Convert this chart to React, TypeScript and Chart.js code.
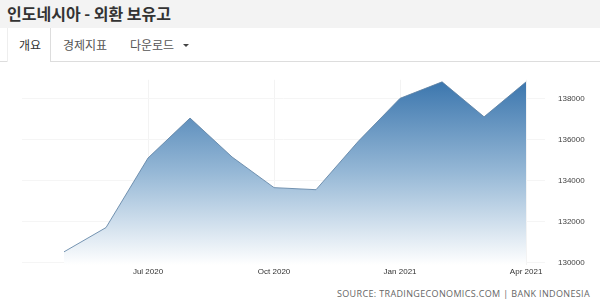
import React, { useEffect, useRef } from "react";
import { Chart, registerables } from "chart.js";

Chart.register(...registerables);

// Months after Apr 2020 (index 1 = May 2020)
const months = ["May 2020", "Jun 2020", "Jul 2020", "Aug 2020", "Sep 2020", "Oct 2020", "Nov 2020", "Dec 2020", "Jan 2021", "Feb 2021", "Mar 2021", "Apr 2021"];
const reserves = [130540, 131720, 135100, 137040, 135150, 133660, 133560, 135900, 138000, 138800, 137100, 138800];
const tickPositions = [3, 6, 9, 12];
const tickLabels = ["Jul 2020", "Oct 2020", "Jan 2021", "Apr 2021"];
const yTicks = [130000, 132000, 134000, 136000, 138000];

const FONT = "'Liberation Sans', Arial, sans-serif";

export default function App() {
  const ref = useRef<HTMLCanvasElement | null>(null);

  useEffect(() => {
    if (!ref.current) return;
    const chart = new Chart(ref.current, {
      type: "line",
      data: {
        labels: months,
        datasets: [
          {
            data: reserves.map((v, i) => ({ x: i + 1, y: v })),
            borderColor: "rgba(95,130,165,0.85)",
            borderWidth: 1,
            pointRadius: 0,
            tension: 0,
            fill: "start",
            backgroundColor: (ctx: any) => {
              const { chart } = ctx;
              const area = chart.chartArea;
              if (!area) return "rgba(60,120,175,0.5)";
              const g = chart.ctx.createLinearGradient(0, area.top, 0, area.bottom);
              g.addColorStop(0, "#3a75ad");
              g.addColorStop(0.5, "#96b8d6");
              g.addColorStop(1, "#ffffff");
              return g;
            },
          },
        ],
      },
      options: {
        animation: false,
        responsive: false,
        layout: { padding: { left: 22, top: 2, right: 0, bottom: 6 } },
        plugins: { legend: { display: false }, tooltip: { enabled: false } },
        scales: {
          x: {
            type: "linear",
            min: 0,
            max: 12.45,
            afterFit: (s: any) => { s.height = 16; },
            afterBuildTicks: (s: any) => { s.ticks = tickPositions.map((v) => ({ value: v })); },
            ticks: {
              padding: 2,
              maxRotation: 0,
              autoSkip: false,
              color: "#333",
              font: { family: FONT, size: 8 },
              callback: (v: any) => {
                const i = tickPositions.indexOf(Number(v));
                return i >= 0 ? tickLabels[i] : "";
              },
            },
            grid: { color: "#f3f3f3", drawTicks: false },
            border: { display: false },
          },
          y: {
            position: "right",
            min: 129900,
            max: 138900,
            afterFit: (s: any) => { s.width = 55; },
            afterBuildTicks: (s: any) => { s.ticks = yTicks.map((v) => ({ value: v })); },
            ticks: {
              padding: 13,
              color: "#444",
              font: { family: FONT, size: 8 },
              callback: (v: any) => String(v),
            },
            grid: { color: "#f5f5f5", drawTicks: false },
            border: { display: false },
          },
        },
      },
    });
    return () => chart.destroy();
  }, []);

  const tab: React.CSSProperties = {
    position: "absolute",
    top: 28,
    height: 34,
    lineHeight: "34px",
    fontSize: 12,
    fontFamily: "'Noto Sans CJK KR', sans-serif",
    color: "#555",
    whiteSpace: "nowrap",
  };

  return (
    <div style={{ position: "absolute", left: 0, top: 0, width: 600, height: 305, background: "#fff", overflow: "hidden" }}>
      <div style={{ position: "absolute", left: 0, top: 0, width: 600, height: 28, background: "#f3f3f3" }} />
      <div
        style={{
          position: "absolute",
          left: 7,
          top: 2,
          lineHeight: "22px",
          fontSize: 16,
          fontWeight: "bold",
          color: "#333",
          fontFamily: "'Noto Sans CJK KR', sans-serif",
          whiteSpace: "nowrap",
        }}
      >
        인도네시아 - 외환 보유고
      </div>
      {/* tab bar */}
      <div style={{ position: "absolute", left: 0, top: 61, width: 7, height: 1, background: "#ddd" }} />
      <div style={{ position: "absolute", left: 51, top: 61, width: 549, height: 1, background: "#ddd" }} />
      <div style={{ position: "absolute", left: 7, top: 28, width: 44, height: 34, background: "#fff", borderLeft: "1px solid #eee", borderRight: "1px solid #ddd", boxSizing: "border-box" }} />
      <div style={{ ...tab, left: 19, color: "#333" }}>개요</div>
      <div style={{ ...tab, left: 63 }}>경제지표</div>
      <div style={{ ...tab, left: 130 }}>다운로드</div>
      <div
        style={{
          position: "absolute",
          left: 183,
          top: 44,
          width: 0,
          height: 0,
          borderLeft: "3px solid transparent",
          borderRight: "3px solid transparent",
          borderTop: "3px solid #444",
        }}
      />
      <div style={{ position: "absolute", left: 0, top: 62, width: 600, height: 225 }}>
        <canvas ref={ref} width={600} height={225} style={{ display: "block", width: 600, height: 225 }} />
      </div>
      <div
        style={{
          position: "absolute",
          right: 10,
          top: 287,
          fontSize: 9,
          letterSpacing: "0.35px",
          color: "#666",
          fontFamily: "'Open Sans', sans-serif",
          whiteSpace: "nowrap",
          lineHeight: "14px",
        }}
      >
        SOURCE: TRADINGECONOMICS.COM | BANK INDONESIA
      </div>
    </div>
  );
}
